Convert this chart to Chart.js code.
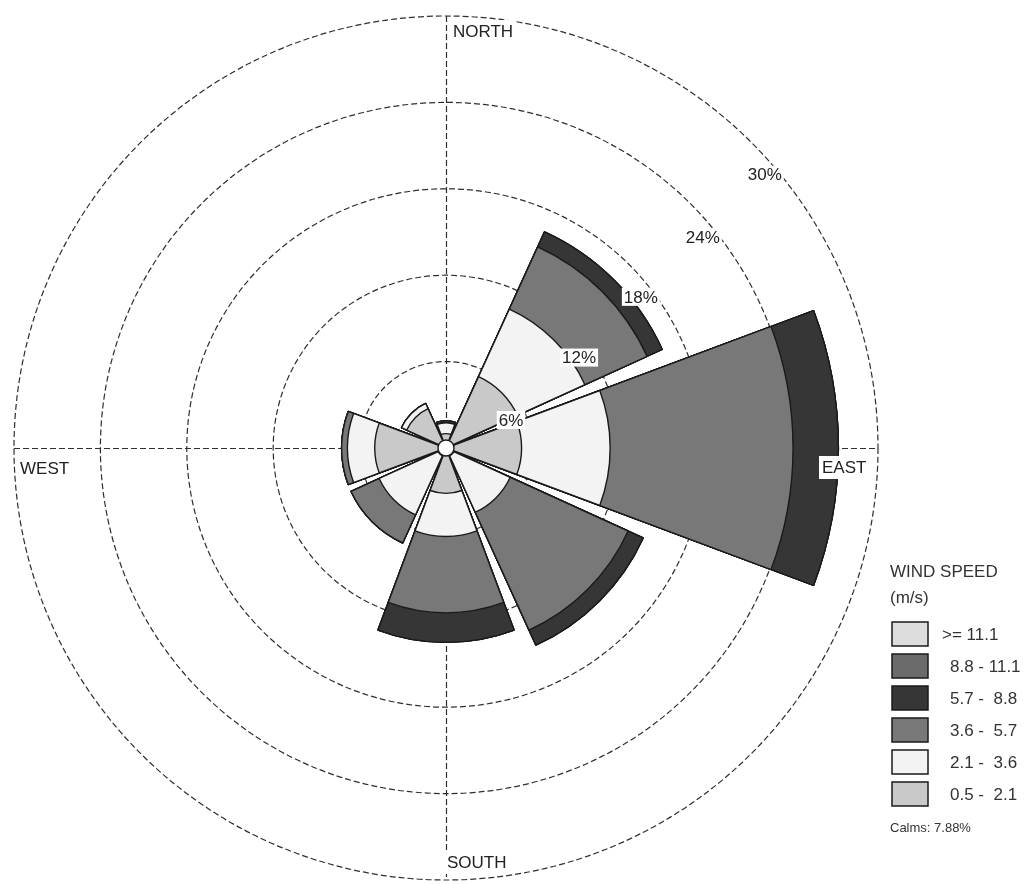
<!DOCTYPE html>
<html>
<head>
<meta charset="utf-8">
<title>Wind Rose</title>
<script src="https://cdn.jsdelivr.net/npm/chart.js@4.4.1/dist/chart.umd.min.js"></script>
<style>
  html, body { margin: 0; padding: 0; background: #ffffff; }
  canvas { display: block; }
</style>
</head>
<body>
<canvas id="rose" width="1032" height="885"></canvas>
<script>
// Directions, clockwise from north
const directions = ['N', 'NE', 'E', 'SE', 'S', 'SW', 'W', 'NW'];

// Frequency (%) of each wind speed class, per direction
const freq_05_21  = [1.00, 5.45,  5.25, 0.60, 3.15, 0.60, 4.95, 3.00];
const freq_21_36  = [0.75, 5.15,  6.15, 4.30, 3.00, 4.50, 1.90, 0.40];
const freq_36_57  = [0.00, 4.75, 12.70, 9.00, 5.30, 2.15, 0.40, 0.00];
const freq_57_88  = [0.15, 1.15,  3.15, 1.15, 2.05, 0.00, 0.00, 0.00];
const freq_88_111 = [0.00, 0.00,  0.00, 0.00, 0.00, 0.00, 0.00, 0.00];
const freq_111    = [0.00, 0.00,  0.00, 0.00, 0.00, 0.00, 0.00, 0.00];

const speedClasses = ['0.5 - 2.1', '2.1 - 3.6', '3.6 - 5.7', '5.7 - 8.8', '8.8 - 11.1', '>= 11.1'];
const classColors  = ['#c9c9c9', '#f3f3f3', '#787878', '#363636', '#6b6b6b', '#dddddd'];

// Rings and their labels
const ringTicks      = [6, 12, 18, 24, 30];
const ringTickLabels = ['6%', '12%', '18%', '24%', '30%'];

const compassLabels = ['NORTH', 'EAST', 'SOUTH', 'WEST'];
const legendTitle   = ['WIND SPEED', '(m/s)'];
const legendLabels  = ['>= 11.1', '8.8 - 11.1', '5.7 -  8.8', '3.6 -  5.7', '2.1 -  3.6', '0.5 -  2.1'];
const calmsText     = 'Calms: 7.88%';

// ---- build stacked (cumulative) petals ----
const classFreqs = [freq_05_21, freq_21_36, freq_36_57, freq_57_88, freq_88_111, freq_111];
const SECTOR = 41;            // degrees covered by a petal
const GAP = 360 / directions.length - SECTOR;

// every petal slot is followed by an empty gap slot
const slotLabels = [];
directions.forEach(d => { slotLabels.push(d); slotLabels.push(''); });

const running = directions.map(() => 0);
const datasets = classFreqs.map((f, k) => {
  const cum = f.map((v, i) => (running[i] += v));
  const data = [];
  cum.forEach(v => { data.push(+v.toFixed(3)); data.push(0); });
  return {
    label: speedClasses[k],
    data,
    backgroundColor: classColors[k],
    borderColor: '#1a1a1a',
    borderWidth: ctx => (ctx.dataIndex % 2 ? 0 : 1.4),
    angle: ctx => (ctx.dataIndex % 2 ? GAP : SECTOR)
  };
});

const FONT = '"Liberation Sans", Arial, sans-serif';

const roseDecor = {
  id: 'roseDecor',
  beforeDatasetsDraw(chart) {
    const s = chart.scales.r;
    const R = s.getDistanceFromCenterForValue(30);
    const cx = s.xCenter, cy = s.yCenter;
    const ctx = chart.ctx;
    ctx.save();
    ctx.strokeStyle = '#2e2e2e';
    ctx.lineWidth = 1.2;
    ctx.setLineDash([6, 3]);
    ctx.beginPath();
    ctx.moveTo(cx + 0.5, cy - R); ctx.lineTo(cx + 0.5, cy + R);
    ctx.moveTo(cx - R, cy + 0.5); ctx.lineTo(cx + R, cy + 0.5);
    ctx.stroke();
    ctx.restore();
  },
  afterDatasetsDraw(chart) {
    const s = chart.scales.r;
    const cx = s.xCenter, cy = s.yCenter;
    const ctx = chart.ctx;
    ctx.save();

    // calm circle
    ctx.beginPath();
    ctx.arc(cx, cy, 8, 0, Math.PI * 2);
    ctx.fillStyle = '#ffffff';
    ctx.fill();
    ctx.lineWidth = 1.4;
    ctx.strokeStyle = '#1a1a1a';
    ctx.stroke();

    // ring percentage labels
    const bearings = [66.7, 55.8, 52.2, 50.7, 49.4];
    const insets   = [15.6, 11.9, 12.6, 13.7, 12.1];
    ctx.font = '17px ' + FONT;
    ctx.textAlign = 'center';
    ctx.textBaseline = 'middle';
    ringTicks.forEach((v, i) => {
      const r = s.getDistanceFromCenterForValue(v) - insets[i];
      const a = bearings[i] * Math.PI / 180;
      const x = cx + r * Math.sin(a);
      const y = cy - r * Math.cos(a);
      const w = ctx.measureText(ringTickLabels[i]).width;
      ctx.fillStyle = '#ffffff';
      ctx.fillRect(x - w / 2 - 2, y - 9, w + 4, 18);
      ctx.fillStyle = '#222222';
      ctx.fillText(ringTickLabels[i], x, y + 1);
    });

    // compass labels
    const spots = [[7, -417], [376, 19], [1, 414], [-426, 20]];
    ctx.textAlign = 'left';
    compassLabels.forEach((t, i) => {
      const x = cx + spots[i][0], y = cy + spots[i][1];
      const w = ctx.measureText(t).width;
      ctx.fillStyle = '#ffffff';
      ctx.fillRect(x - 3, y - 11, w + 6, 23);
      ctx.fillStyle = '#222222';
      ctx.fillText(t, x, y + 1);
    });
    ctx.restore();
  },
  afterDraw(chart) {
    const ctx = chart.ctx;
    ctx.save();
    ctx.textBaseline = 'middle';
    ctx.textAlign = 'left';
    ctx.fillStyle = '#333333';
    ctx.font = '17px ' + FONT;
    ctx.fillText(legendTitle[0], 890, 572);
    ctx.fillText(legendTitle[1], 890, 598);

    // legend rows: fastest class first
    legendLabels.forEach((t, i) => {
      const k = speedClasses.length - 1 - i;
      const y = 634 + i * 32;
      ctx.fillStyle = classColors[k];
      ctx.fillRect(892, y - 12, 36, 24);
      ctx.lineWidth = 1.5;
      ctx.strokeStyle = '#1a1a1a';
      ctx.strokeRect(892, y - 12, 36, 24);
      ctx.fillStyle = '#333333';
      ctx.fillText(t, i === 0 ? 942 : 950, y + 1);
    });

    ctx.font = '13px ' + FONT;
    ctx.fillText(calmsText, 890, 828);
    ctx.restore();
  }
};

new Chart(document.getElementById('rose'), {
  type: 'polarArea',
  data: { labels: slotLabels, datasets },
  options: {
    responsive: false,
    animation: false,
    events: [],
    layout: { padding: { left: 14, right: 154, top: 16, bottom: 5 } },
    plugins: { legend: { display: false }, tooltip: { enabled: false } },
    scales: {
      r: {
        min: 0,
        max: 30,
        startAngle: -SECTOR / 2,
        ticks: { display: false, stepSize: 6 },
        grid: { circular: true, color: '#2e2e2e', lineWidth: 1.2 },
        border: { dash: [6, 3] },
        angleLines: { display: false },
        pointLabels: { display: false }
      }
    }
  },
  plugins: [roseDecor]
});
</script>
</body>
</html>
